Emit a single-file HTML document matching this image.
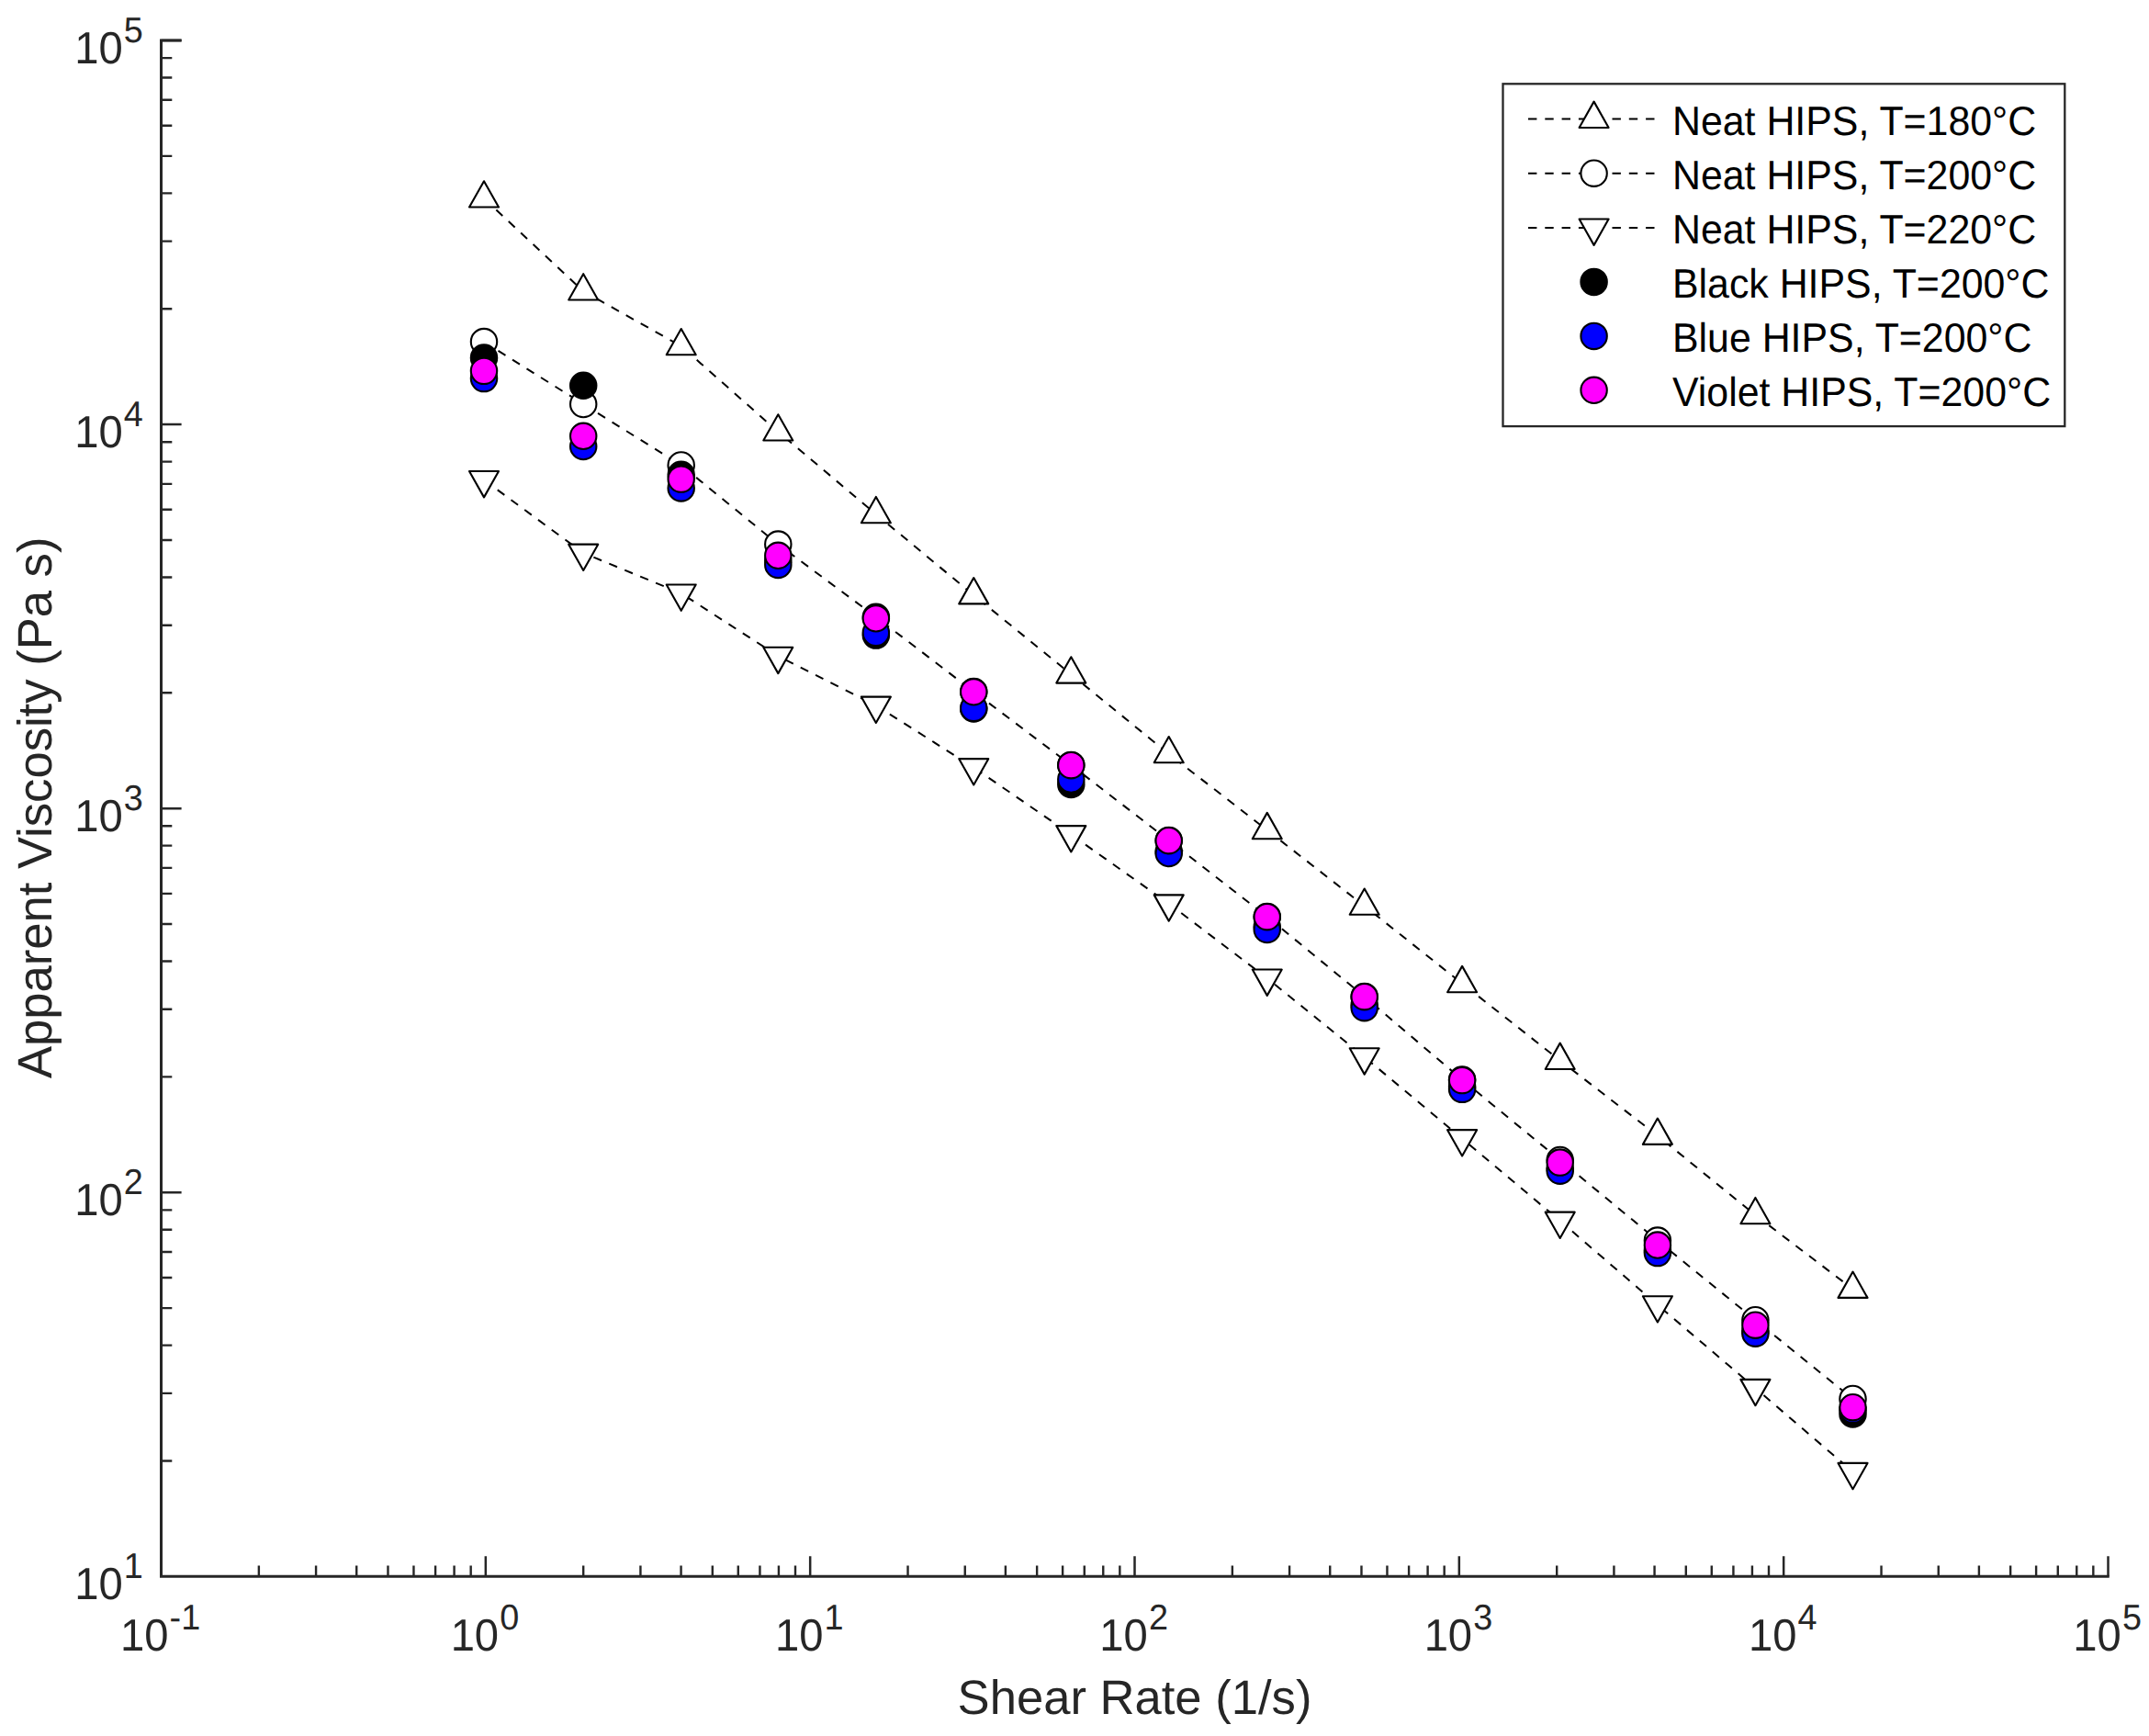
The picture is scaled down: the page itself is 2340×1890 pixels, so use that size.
<!DOCTYPE html>
<html lang="en"><head><meta charset="utf-8"><title>Apparent Viscosity vs Shear Rate</title>
<style>
html,body{margin:0;padding:0;background:#fff;}
body{width:2340px;height:1890px;overflow:hidden;}
svg{display:block;font-family:"Liberation Sans",Arial,Helvetica,sans-serif;text-rendering:geometricPrecision;}
.ax{stroke:#262626;fill:none;stroke-linecap:butt;}
.tl{fill:#262626;font-size:47.2px;}
.ex{font-size:37.8px;}
.lab{fill:#262626;font-size:52.6px;}
.lg{fill:#000;font-size:42.85px;}
.ln{stroke:#000;stroke-width:2.0;fill:none;stroke-dasharray:9.4 8.9;}
.mk{stroke:#000;stroke-width:2.1;stroke-linejoin:round;}
</style></head><body>
<svg width="2340" height="1890" viewBox="0 0 2340 1890">
<rect width="2340" height="1890" fill="#fff"/>
<g class="ax" stroke-width="3.0">
<path d="M175.5,42.5 V1716.3 M174.0,1716.3 H2296.75 M175.5,44.0 h22.1"/>
<path stroke-width="2.5" d="M528.83,1716.3 v-22.1 M882.17,1716.3 v-22.1 M1235.50,1716.3 v-22.1 M1588.83,1716.3 v-22.1 M1942.17,1716.3 v-22.1 M2295.50,1716.3 v-22.1"/>
<path stroke-width="2.5" d="M175.5,1298.22 h22.1 M175.5,880.15 h22.1 M175.5,462.08 h22.1 M175.5,44.00 h22.1"/>
</g>
<g class="ax" stroke-width="2.4">
<path d="M281.86,1716.3 v-11.8 M344.08,1716.3 v-11.8 M388.23,1716.3 v-11.8 M422.47,1716.3 v-11.8 M450.45,1716.3 v-11.8 M474.10,1716.3 v-11.8 M494.59,1716.3 v-11.8 M512.67,1716.3 v-11.8 M635.20,1716.3 v-11.8 M697.42,1716.3 v-11.8 M741.56,1716.3 v-11.8 M775.80,1716.3 v-11.8 M803.78,1716.3 v-11.8 M827.43,1716.3 v-11.8 M847.93,1716.3 v-11.8 M866.00,1716.3 v-11.8 M988.53,1716.3 v-11.8 M1050.75,1716.3 v-11.8 M1094.89,1716.3 v-11.8 M1129.14,1716.3 v-11.8 M1157.11,1716.3 v-11.8 M1180.77,1716.3 v-11.8 M1201.26,1716.3 v-11.8 M1219.33,1716.3 v-11.8 M1341.86,1716.3 v-11.8 M1404.08,1716.3 v-11.8 M1448.23,1716.3 v-11.8 M1482.47,1716.3 v-11.8 M1510.45,1716.3 v-11.8 M1534.10,1716.3 v-11.8 M1554.59,1716.3 v-11.8 M1572.67,1716.3 v-11.8 M1695.20,1716.3 v-11.8 M1757.42,1716.3 v-11.8 M1801.56,1716.3 v-11.8 M1835.80,1716.3 v-11.8 M1863.78,1716.3 v-11.8 M1887.43,1716.3 v-11.8 M1907.93,1716.3 v-11.8 M1926.00,1716.3 v-11.8 M2048.53,1716.3 v-11.8 M2110.75,1716.3 v-11.8 M2154.89,1716.3 v-11.8 M2189.14,1716.3 v-11.8 M2217.11,1716.3 v-11.8 M2240.77,1716.3 v-11.8 M2261.26,1716.3 v-11.8 M2279.33,1716.3 v-11.8 M175.5,1590.45 h11.8 M175.5,1516.83 h11.8 M175.5,1464.59 h11.8 M175.5,1424.08 h11.8 M175.5,1390.97 h11.8 M175.5,1362.99 h11.8 M175.5,1338.74 h11.8 M175.5,1317.36 h11.8 M175.5,1172.37 h11.8 M175.5,1098.75 h11.8 M175.5,1046.52 h11.8 M175.5,1006.00 h11.8 M175.5,972.90 h11.8 M175.5,944.91 h11.8 M175.5,920.67 h11.8 M175.5,899.28 h11.8 M175.5,754.30 h11.8 M175.5,680.68 h11.8 M175.5,628.44 h11.8 M175.5,587.93 h11.8 M175.5,554.82 h11.8 M175.5,526.84 h11.8 M175.5,502.59 h11.8 M175.5,481.21 h11.8 M175.5,336.22 h11.8 M175.5,262.60 h11.8 M175.5,210.37 h11.8 M175.5,169.85 h11.8 M175.5,136.75 h11.8 M175.5,108.76 h11.8 M175.5,84.52 h11.8 M175.5,63.13 h11.8"/>
</g>
<g class="tl">
<text transform="translate(131.01,1796.80) scale(1,1.04)">10</text><text class="ex" transform="translate(184.61,1773.80) scale(1,1.03)">-1</text>
<text transform="translate(490.63,1796.80) scale(1,1.04)">10</text><text class="ex" transform="translate(544.23,1773.80) scale(1,1.03)">0</text>
<text transform="translate(843.97,1796.80) scale(1,1.04)">10</text><text class="ex" transform="translate(897.57,1773.80) scale(1,1.03)">1</text>
<text transform="translate(1197.30,1796.80) scale(1,1.04)">10</text><text class="ex" transform="translate(1250.90,1773.80) scale(1,1.03)">2</text>
<text transform="translate(1550.63,1796.80) scale(1,1.04)">10</text><text class="ex" transform="translate(1604.23,1773.80) scale(1,1.03)">3</text>
<text transform="translate(1903.97,1796.80) scale(1,1.04)">10</text><text class="ex" transform="translate(1957.57,1773.80) scale(1,1.03)">4</text>
<text transform="translate(2257.30,1796.80) scale(1,1.04)">10</text><text class="ex" transform="translate(2310.90,1773.80) scale(1,1.03)">5</text>
<text transform="translate(81.20,1740.90) scale(1,1.04)">10</text><text class="ex" transform="translate(134.80,1717.90) scale(1,1.03)">1</text>
<text transform="translate(81.20,1322.82) scale(1,1.04)">10</text><text class="ex" transform="translate(134.80,1299.82) scale(1,1.03)">2</text>
<text transform="translate(81.20,904.75) scale(1,1.04)">10</text><text class="ex" transform="translate(134.80,881.75) scale(1,1.03)">3</text>
<text transform="translate(81.20,486.68) scale(1,1.04)">10</text><text class="ex" transform="translate(134.80,463.68) scale(1,1.03)">4</text>
<text transform="translate(81.20,68.60) scale(1,1.04)">10</text><text class="ex" transform="translate(134.80,45.60) scale(1,1.03)">5</text>
</g>
<text class="lab" x="1235.50" y="1866" text-anchor="middle">Shear Rate (1/s)</text>
<text class="lab" transform="translate(56,879.35) rotate(-90)" text-anchor="middle">Apparent Viscosity (Pa s)</text>
<polyline class="ln" points="527.00,216.10 635.20,317.05 741.70,376.85 847.30,470.10 953.85,559.80 1060.25,647.95 1166.30,734.15 1272.70,820.85 1379.75,903.75 1485.70,986.35 1592.10,1070.75 1698.70,1154.50 1804.90,1236.45 1911.40,1322.80 2017.50,1403.45"/>
<g class="mk" fill="#fff"><polygon points="527.00,197.23 543.00,225.53 511.00,225.53"/><polygon points="635.20,298.18 651.20,326.48 619.20,326.48"/><polygon points="741.70,357.98 757.70,386.28 725.70,386.28"/><polygon points="847.30,451.23 863.30,479.53 831.30,479.53"/><polygon points="953.85,540.93 969.85,569.23 937.85,569.23"/><polygon points="1060.25,629.08 1076.25,657.38 1044.25,657.38"/><polygon points="1166.30,715.28 1182.30,743.58 1150.30,743.58"/><polygon points="1272.70,801.98 1288.70,830.28 1256.70,830.28"/><polygon points="1379.75,884.88 1395.75,913.18 1363.75,913.18"/><polygon points="1485.70,967.48 1501.70,995.78 1469.70,995.78"/><polygon points="1592.10,1051.88 1608.10,1080.18 1576.10,1080.18"/><polygon points="1698.70,1135.63 1714.70,1163.93 1682.70,1163.93"/><polygon points="1804.90,1217.58 1820.90,1245.88 1788.90,1245.88"/><polygon points="1911.40,1303.93 1927.40,1332.23 1895.40,1332.23"/><polygon points="2017.50,1384.58 2033.50,1412.88 2001.50,1412.88"/></g>
<polyline class="ln" points="527.00,372.10 635.20,440.00 741.70,506.50 847.30,592.60 953.85,671.70 1060.25,753.00 1166.30,833.00 1272.70,915.00 1379.75,998.00 1485.70,1085.00 1592.10,1175.50 1698.70,1263.00 1804.90,1350.60 1911.40,1437.20 2017.50,1523.00"/>
<g class="mk" fill="#fff"><circle cx="527.00" cy="372.10" r="14.2"/><circle cx="635.20" cy="440.00" r="14.2"/><circle cx="741.70" cy="506.50" r="14.2"/><circle cx="847.30" cy="592.60" r="14.2"/><circle cx="953.85" cy="671.70" r="14.2"/><circle cx="1060.25" cy="753.00" r="14.2"/><circle cx="1166.30" cy="833.00" r="14.2"/><circle cx="1272.70" cy="915.00" r="14.2"/><circle cx="1379.75" cy="998.00" r="14.2"/><circle cx="1485.70" cy="1085.00" r="14.2"/><circle cx="1592.10" cy="1175.50" r="14.2"/><circle cx="1698.70" cy="1263.00" r="14.2"/><circle cx="1804.90" cy="1350.60" r="14.2"/><circle cx="1911.40" cy="1437.20" r="14.2"/><circle cx="2017.50" cy="1523.00" r="14.2"/></g>
<polyline class="ln" points="527.00,522.50 635.20,602.10 741.70,645.95 847.30,714.25 953.85,768.05 1060.25,835.60 1166.30,908.55 1272.70,983.80 1379.75,1065.00 1485.70,1150.75 1592.10,1239.60 1698.70,1329.10 1804.90,1420.65 1911.40,1511.30 2017.50,1602.35"/>
<g class="mk" fill="#fff"><polygon points="527.00,541.37 543.00,513.07 511.00,513.07"/><polygon points="635.20,620.97 651.20,592.67 619.20,592.67"/><polygon points="741.70,664.82 757.70,636.52 725.70,636.52"/><polygon points="847.30,733.12 863.30,704.82 831.30,704.82"/><polygon points="953.85,786.92 969.85,758.62 937.85,758.62"/><polygon points="1060.25,854.47 1076.25,826.17 1044.25,826.17"/><polygon points="1166.30,927.42 1182.30,899.12 1150.30,899.12"/><polygon points="1272.70,1002.67 1288.70,974.37 1256.70,974.37"/><polygon points="1379.75,1083.87 1395.75,1055.57 1363.75,1055.57"/><polygon points="1485.70,1169.62 1501.70,1141.32 1469.70,1141.32"/><polygon points="1592.10,1258.47 1608.10,1230.17 1576.10,1230.17"/><polygon points="1698.70,1347.97 1714.70,1319.67 1682.70,1319.67"/><polygon points="1804.90,1439.52 1820.90,1411.22 1788.90,1411.22"/><polygon points="1911.40,1530.17 1927.40,1501.87 1895.40,1501.87"/><polygon points="2017.50,1621.22 2033.50,1592.92 2001.50,1592.92"/></g>
<g class="mk" fill="#000"><circle cx="527.00" cy="389.50" r="14.2"/><circle cx="635.20" cy="419.70" r="14.2"/><circle cx="741.70" cy="516.70" r="14.2"/><circle cx="847.30" cy="610.00" r="14.2"/><circle cx="953.85" cy="691.60" r="14.2"/><circle cx="1060.25" cy="771.50" r="14.2"/><circle cx="1166.30" cy="854.00" r="14.2"/><circle cx="1272.70" cy="927.00" r="14.2"/><circle cx="1379.75" cy="1009.00" r="14.2"/><circle cx="1485.70" cy="1094.00" r="14.2"/><circle cx="1592.10" cy="1183.00" r="14.2"/><circle cx="1698.70" cy="1272.00" r="14.2"/><circle cx="1804.90" cy="1361.00" r="14.2"/><circle cx="1911.40" cy="1449.00" r="14.2"/><circle cx="2017.50" cy="1539.50" r="14.2"/></g>
<g class="mk" fill="#0000ff"><circle cx="527.00" cy="412.10" r="14.2"/><circle cx="635.20" cy="486.00" r="14.2"/><circle cx="741.70" cy="531.40" r="14.2"/><circle cx="847.30" cy="614.90" r="14.2"/><circle cx="953.85" cy="688.90" r="14.2"/><circle cx="1060.25" cy="770.90" r="14.2"/><circle cx="1166.30" cy="848.50" r="14.2"/><circle cx="1272.70" cy="929.00" r="14.2"/><circle cx="1379.75" cy="1012.00" r="14.2"/><circle cx="1485.70" cy="1097.20" r="14.2"/><circle cx="1592.10" cy="1185.85" r="14.2"/><circle cx="1698.70" cy="1274.70" r="14.2"/><circle cx="1804.90" cy="1364.10" r="14.2"/><circle cx="1911.40" cy="1451.70" r="14.2"/><circle cx="2017.50" cy="1534.90" r="14.2"/></g>
<g class="mk" fill="#ff00ff"><circle cx="527.00" cy="403.85" r="14.2"/><circle cx="635.20" cy="474.80" r="14.2"/><circle cx="741.70" cy="521.60" r="14.2"/><circle cx="847.30" cy="604.80" r="14.2"/><circle cx="953.85" cy="673.30" r="14.2"/><circle cx="1060.25" cy="753.30" r="14.2"/><circle cx="1166.30" cy="833.15" r="14.2"/><circle cx="1272.70" cy="915.20" r="14.2"/><circle cx="1379.75" cy="998.20" r="14.2"/><circle cx="1485.70" cy="1085.20" r="14.2"/><circle cx="1592.10" cy="1176.10" r="14.2"/><circle cx="1698.70" cy="1265.60" r="14.2"/><circle cx="1804.90" cy="1355.55" r="14.2"/><circle cx="1911.40" cy="1442.70" r="14.2"/><circle cx="2017.50" cy="1532.20" r="14.2"/></g>
<rect x="1636.5" y="91.3" width="611.8000000000002" height="372.8" fill="#fff" stroke="#262626" stroke-width="2.3"/>
<path class="ln" d="M1664,129.5 H1802"/>
<g class="mk" fill="#fff"><polygon points="1735.60,110.63 1751.60,138.93 1719.60,138.93"/></g>
<text class="lg" transform="translate(1821,146.80) scale(1,1.04)">Neat HIPS, T=180°C</text>
<path class="ln" d="M1664,188.7 H1802"/>
<g class="mk" fill="#fff"><circle cx="1735.60" cy="188.70" r="14.2"/></g>
<text class="lg" transform="translate(1821,206.00) scale(1,1.04)">Neat HIPS, T=200°C</text>
<path class="ln" d="M1664,248.0 H1802"/>
<g class="mk" fill="#fff"><polygon points="1735.60,266.87 1751.60,238.57 1719.60,238.57"/></g>
<text class="lg" transform="translate(1821,265.30) scale(1,1.04)">Neat HIPS, T=220°C</text>
<g class="mk" fill="#000"><circle cx="1735.60" cy="306.90" r="14.2"/></g>
<text class="lg" transform="translate(1821,324.20) scale(1,1.04)">Black HIPS, T=200°C</text>
<g class="mk" fill="#0000ff"><circle cx="1735.60" cy="365.90" r="14.2"/></g>
<text class="lg" transform="translate(1821,383.20) scale(1,1.04)">Blue HIPS, T=200°C</text>
<g class="mk" fill="#ff00ff"><circle cx="1735.60" cy="424.80" r="14.2"/></g>
<text class="lg" transform="translate(1821,442.10) scale(1,1.04)">Violet HIPS, T=200°C</text>
</svg></body></html>
